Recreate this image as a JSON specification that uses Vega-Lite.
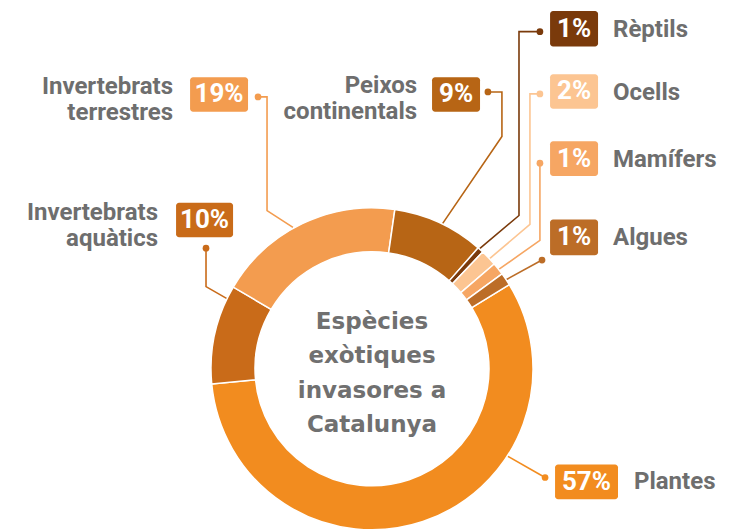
{
  "$schema": "https://vega.github.io/schema/vega-lite/v6.json",
  "width": 755,
  "height": 531,
  "autosize": {"type": "fit", "contains": "padding"},
  "padding": 0,
  "background": "white",
  "config": {"view": {"stroke": null}},
  "datasets": {
    "segments": [
      {"cat": "Plantes", "value": 57.25, "ord": 1},
      {"cat": "Invertebrats aquàtics", "value": 9.97, "ord": 2},
      {"cat": "Invertebrats terrestres", "value": 18.8, "ord": 3},
      {"cat": "Peixos continentals", "value": 9.2, "ord": 4},
      {"cat": "Rèptils", "value": 0.6, "ord": 5},
      {"cat": "Ocells", "value": 1.65, "ord": 6},
      {"cat": "Mamífers", "value": 1.25, "ord": 7},
      {"cat": "Algues", "value": 1.28, "ord": 8}
    ],
    "leaders": [
      {"cat": "Plantes", "seq": 1, "x": 83.9, "y": -54.7},
      {"cat": "Plantes", "seq": 2, "x": 107.5, "y": -68.3},
      {"cat": "Invertebrats aquàtics", "seq": 1, "x": -90.1, "y": 44.1},
      {"cat": "Invertebrats aquàtics", "seq": 2, "x": -103.1, "y": 51.6},
      {"cat": "Invertebrats aquàtics", "seq": 3, "x": -103.1, "y": 75.8},
      {"cat": "Invertebrats terrestres", "seq": 1, "x": -49.1, "y": 88.8},
      {"cat": "Invertebrats terrestres", "seq": 2, "x": -65.2, "y": 99.4},
      {"cat": "Invertebrats terrestres", "seq": 3, "x": -65.2, "y": 170.8},
      {"cat": "Invertebrats terrestres", "seq": 4, "x": -70.8, "y": 170.8},
      {"cat": "Peixos continentals", "seq": 1, "x": 43.5, "y": 90.7},
      {"cat": "Peixos continentals", "seq": 2, "x": 80.7, "y": 146.0},
      {"cat": "Peixos continentals", "seq": 3, "x": 80.7, "y": 173.9},
      {"cat": "Peixos continentals", "seq": 4, "x": 72.0, "y": 173.9},
      {"cat": "Rèptils", "seq": 1, "x": 66.5, "y": 75.2},
      {"cat": "Rèptils", "seq": 2, "x": 91.3, "y": 96.3},
      {"cat": "Rèptils", "seq": 3, "x": 91.3, "y": 211.8},
      {"cat": "Rèptils", "seq": 4, "x": 104.3, "y": 211.8},
      {"cat": "Ocells", "seq": 1, "x": 72.7, "y": 68.9},
      {"cat": "Ocells", "seq": 2, "x": 98.1, "y": 90.7},
      {"cat": "Ocells", "seq": 3, "x": 98.1, "y": 172.7},
      {"cat": "Ocells", "seq": 4, "x": 104.3, "y": 172.7},
      {"cat": "Mamífers", "seq": 1, "x": 78.3, "y": 62.1},
      {"cat": "Mamífers", "seq": 2, "x": 104.3, "y": 80.7},
      {"cat": "Mamífers", "seq": 3, "x": 104.3, "y": 129.2},
      {"cat": "Algues", "seq": 1, "x": 83.0, "y": 55.8},
      {"cat": "Algues", "seq": 2, "x": 105.6, "y": 68.3}
    ],
    "labels": [
      {"cat": "Plantes", "pct": "57%", "name": "Plantes", "side": "R", "bx1": 113.7, "bx2": 152.8, "by1": -60.2, "by2": -82.0, "tx": 133.2, "ty": -71.1, "nx": 162.7, "ny": -71.1, "dotx": 107.5, "doty": -68.3},
      {"cat": "Invertebrats aquàtics", "pct": "10%", "name": "Invertebrats\naquàtics", "side": "L", "bx1": -121.7, "bx2": -86.3, "by1": 104.3, "by2": 82.6, "tx": -104.0, "ty": 93.5, "nx": -132.9, "ny": 98.1, "dotx": -103.1, "doty": 75.8},
      {"cat": "Invertebrats terrestres", "pct": "19%", "name": "Invertebrats\nterrestres", "side": "L", "bx1": -113.0, "bx2": -77.0, "by1": 183.2, "by2": 161.5, "tx": -95.0, "ty": 172.4, "nx": -123.6, "ny": 177.0, "dotx": -70.8, "doty": 170.8},
      {"cat": "Peixos continentals", "pct": "9%", "name": "Peixos\ncontinentals", "side": "L", "bx1": 37.3, "bx2": 67.1, "by1": 183.2, "by2": 161.5, "tx": 52.2, "ty": 172.4, "nx": 28.0, "ny": 177.6, "dotx": 72.0, "doty": 173.9},
      {"cat": "Rèptils", "pct": "1%", "name": "Rèptils", "side": "R", "bx1": 110.6, "bx2": 140.4, "by1": 224.8, "by2": 202.5, "tx": 125.5, "ty": 213.7, "nx": 149.7, "ny": 213.0, "dotx": 104.3, "doty": 211.8},
      {"cat": "Ocells", "pct": "2%", "name": "Ocells", "side": "R", "bx1": 110.6, "bx2": 140.4, "by1": 185.1, "by2": 163.4, "tx": 125.5, "ty": 174.2, "nx": 149.7, "ny": 173.5, "dotx": 104.3, "doty": 172.7},
      {"cat": "Mamífers", "pct": "1%", "name": "Mamífers", "side": "R", "bx1": 110.6, "bx2": 140.4, "by1": 142.9, "by2": 121.1, "tx": 125.5, "ty": 132.0, "nx": 149.7, "ny": 131.3, "dotx": 104.3, "doty": 129.2},
      {"cat": "Algues", "pct": "1%", "name": "Algues", "side": "R", "bx1": 110.6, "bx2": 140.4, "by1": 93.8, "by2": 71.4, "tx": 125.5, "ty": 82.6, "nx": 149.7, "ny": 81.9, "dotx": 105.6, "doty": 68.3}
    ],
    "title": [
      {"text": "Espècies\nexòtiques\ninvasores a\nCatalunya", "x": 0, "y": 29.4}
    ]
  },
  "layer": [
    {
      "data": {"name": "leaders"},
      "mark": {"type": "line", "strokeWidth": 1.6, "interpolate": "linear"},
      "encoding": {
        "x": {"field": "x", "type": "quantitative", "scale": {"domain": [-231.06, 237.89], "nice": false, "zero": false}, "axis": null},
        "y": {"field": "y", "type": "quantitative", "scale": {"domain": [-98.14, 231.68], "nice": false, "zero": false}, "axis": null},
        "detail": {"field": "cat"},
        "order": {"field": "seq"},
        "color": {"field": "cat", "type": "nominal", "legend": null,
          "scale": {
            "domain": ["Plantes", "Invertebrats aquàtics", "Invertebrats terrestres", "Peixos continentals", "Rèptils", "Ocells", "Mamífers", "Algues"],
            "range": ["#F28C1F", "#C96B19", "#F39C4F", "#B76515", "#7A3A0B", "#FCC592", "#F6A663", "#BC6D27"]
          }}
      }
    },
    {
      "data": {"name": "segments"},
      "mark": {"type": "arc", "outerRadius": 161, "innerRadius": 117, "stroke": "white", "strokeWidth": 1.5},
      "encoding": {
        "x": {"datum": 0, "type": "quantitative", "scale": {"domain": [-231.06, 237.89], "nice": false, "zero": false}, "axis": null},
        "y": {"datum": 0, "type": "quantitative", "scale": {"domain": [-98.14, 231.68], "nice": false, "zero": false}, "axis": null},
        "theta": {"field": "value", "type": "quantitative", "stack": true, "scale": {"range": [1.021, 7.3042]}},
        "order": {"field": "ord"},
        "color": {"field": "cat", "type": "nominal", "legend": null}
      }
    },
    {
      "data": {"name": "labels"},
      "mark": {"type": "point", "filled": true, "opacity": 1, "size": 45, "shape": "circle"},
      "encoding": {
        "x": {"field": "dotx", "type": "quantitative", "scale": {"domain": [-231.06, 237.89], "nice": false, "zero": false}, "axis": null},
        "y": {"field": "doty", "type": "quantitative", "scale": {"domain": [-98.14, 231.68], "nice": false, "zero": false}, "axis": null},
        "color": {"field": "cat", "type": "nominal", "legend": null}
      }
    },
    {
      "data": {"name": "labels"},
      "mark": {"type": "rect", "cornerRadius": 3},
      "encoding": {
        "x": {"field": "bx1", "type": "quantitative", "scale": {"domain": [-231.06, 237.89], "nice": false, "zero": false}, "axis": null},
        "x2": {"field": "bx2"},
        "y": {"field": "by1", "type": "quantitative", "scale": {"domain": [-98.14, 231.68], "nice": false, "zero": false}, "axis": null},
        "y2": {"field": "by2"},
        "color": {"field": "cat", "type": "nominal", "legend": null}
      }
    },
    {
      "data": {"name": "labels"},
      "mark": {"type": "text", "font": "Roboto", "fontWeight": "bold", "fontSize": 26, "color": "white", "align": "center", "baseline": "middle"},
      "encoding": {
        "x": {"field": "tx", "type": "quantitative", "scale": {"domain": [-231.06, 237.89], "nice": false, "zero": false}, "axis": null},
        "y": {"field": "ty", "type": "quantitative", "scale": {"domain": [-98.14, 231.68], "nice": false, "zero": false}, "axis": null},
        "text": {"field": "pct"}
      }
    },
    {
      "data": {"name": "labels"},
      "transform": [{"filter": "datum.side === 'R'"}],
      "mark": {"type": "text", "font": "Roboto", "fontWeight": "bold", "fontSize": 24, "color": "#6e6e6e", "align": "left", "baseline": "middle"},
      "encoding": {
        "x": {"field": "nx", "type": "quantitative", "scale": {"domain": [-231.06, 237.89], "nice": false, "zero": false}, "axis": null},
        "y": {"field": "ny", "type": "quantitative", "scale": {"domain": [-98.14, 231.68], "nice": false, "zero": false}, "axis": null},
        "text": {"field": "name"}
      }
    },
    {
      "data": {"name": "labels"},
      "transform": [{"filter": "datum.side === 'L'"}],
      "mark": {"type": "text", "font": "Roboto", "fontWeight": "bold", "fontSize": 24, "color": "#6e6e6e", "align": "right", "baseline": "middle", "lineBreak": "\n", "lineHeight": 26},
      "encoding": {
        "x": {"field": "nx", "type": "quantitative", "scale": {"domain": [-231.06, 237.89], "nice": false, "zero": false}, "axis": null},
        "y": {"field": "ny", "type": "quantitative", "scale": {"domain": [-98.14, 231.68], "nice": false, "zero": false}, "axis": null},
        "text": {"field": "name"}
      }
    },
    {
      "data": {"name": "title"},
      "mark": {"type": "text", "font": "DejaVu Sans", "fontWeight": "bold", "fontSize": 23, "color": "#707070", "align": "center", "baseline": "middle", "lineBreak": "\n", "lineHeight": 34.5},
      "encoding": {
        "x": {"field": "x", "type": "quantitative", "scale": {"domain": [-231.06, 237.89], "nice": false, "zero": false}, "axis": null},
        "y": {"field": "y", "type": "quantitative", "scale": {"domain": [-98.14, 231.68], "nice": false, "zero": false}, "axis": null},
        "text": {"field": "text"}
      }
    }
  ]
}
